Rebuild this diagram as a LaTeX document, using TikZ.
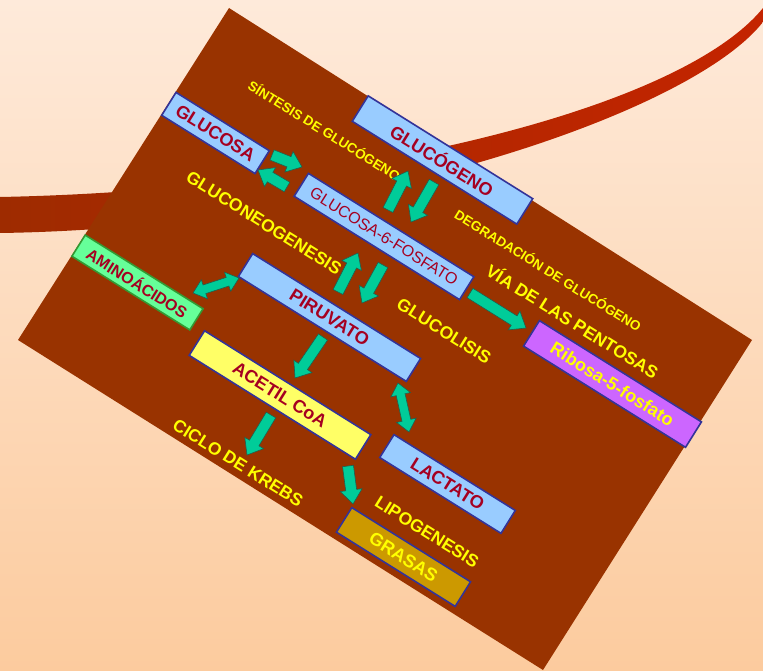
\documentclass[tikz,border=0pt]{standalone}
\usepackage{fontspec}
\setmainfont{Liberation Sans}
\usetikzlibrary{calc}

\definecolor{bgtop}{HTML}{FEEADA}
\definecolor{bgbot}{HTML}{FCCB9E}
\definecolor{slate}{HTML}{993300}
\definecolor{swooshL}{HTML}{9E2B00}
\definecolor{swooshR}{HTML}{C42400}
\definecolor{boxblue}{HTML}{99CCFF}
\definecolor{boxline}{HTML}{333399}
\definecolor{boxgreen}{HTML}{66FF99}
\definecolor{greenline}{HTML}{339933}
\definecolor{boxyellow}{HTML}{FFFF66}
\definecolor{boxgold}{HTML}{CC9900}
\definecolor{boxviolet}{HTML}{CC66FF}
\definecolor{txtred}{HTML}{A50021}
\definecolor{txtyellow}{HTML}{FFFF00}
\definecolor{arrgreen}{HTML}{00CC99}
\definecolor{arrline}{HTML}{1F5F4F}

% block arrow dimensions (half shaft width, half head width, head length)
\def\arrSW{5.5}
\def\arrHW{11}
\def\arrHL{14}
\def\dblSW{4.5}
\def\dblHW{10}
\def\dblHL{12}

% single-headed block arrow from #1 to #2
\newcommand\blockarrow[2]{%
  \path[arrfill] let \p1=(#1), \p2=(#2),
    \n1={atan2(\y2-\y1,\x2-\x1)},
    \n2={veclen(\x2-\x1,\y2-\y1)-\arrHL}
  in ($(\p1)+(\n1+90:\arrSW pt)$)
  -- ($(\p1)+(\n1:\n2)+(\n1+90:\arrSW pt)$)
  -- ($(\p1)+(\n1:\n2)+(\n1+90:\arrHW pt)$)
  -- (\p2)
  -- ($(\p1)+(\n1:\n2)+(\n1-90:\arrHW pt)$)
  -- ($(\p1)+(\n1:\n2)+(\n1-90:\arrSW pt)$)
  -- ($(\p1)+(\n1-90:\arrSW pt)$) -- cycle;}

% double-headed block arrow between #1 and #2
\newcommand\dblarrow[2]{%
  \path[arrfill] let \p1=(#1), \p2=(#2),
    \n1={atan2(\y2-\y1,\x2-\x1)},
    \n2={veclen(\x2-\x1,\y2-\y1)-\dblHL}
  in (\p1)
  -- ($(\p1)+(\n1:\dblHL pt)+(\n1+90:\dblHW pt)$)
  -- ($(\p1)+(\n1:\dblHL pt)+(\n1+90:\dblSW pt)$)
  -- ($(\p1)+(\n1:\n2)+(\n1+90:\dblSW pt)$)
  -- ($(\p1)+(\n1:\n2)+(\n1+90:\dblHW pt)$)
  -- (\p2)
  -- ($(\p1)+(\n1:\n2)+(\n1-90:\dblHW pt)$)
  -- ($(\p1)+(\n1:\n2)+(\n1-90:\dblSW pt)$)
  -- ($(\p1)+(\n1:\dblHL pt)+(\n1-90:\dblSW pt)$)
  -- ($(\p1)+(\n1:\dblHL pt)+(\n1-90:\dblHW pt)$)
  -- cycle;}

\begin{document}
\begin{tikzpicture}[x=1pt,y=-1pt,
  tilted/.style={rotate=-32},
  metabox/.style={tilted, draw=boxline, line width=1.6pt, fill=boxblue,
    text=txtred, font=\bfseries\fontsize{18}{18}\selectfont,
    inner sep=0pt, minimum height=27pt},
  flowlabel/.style={tilted, text=txtyellow, inner sep=0pt,
    font=\bfseries\fontsize{17.5}{18}\selectfont},
  smalllabel/.style={flowlabel, font=\bfseries\fontsize{13.5}{14}\selectfont},
  arrfill/.style={fill=arrgreen, draw=arrline, line width=0.6pt, line join=miter}
]
\useasboundingbox (0,0) rectangle (763,671);

% backdrop and swoosh
\shade[top color=bgtop, bottom color=bgbot] (0,0) rectangle (763,671);
\shade[left color=swooshL, right color=swooshR]
  (0,197) .. controls (350,190) and (680,110) .. (763,8)
  -- (763,22) .. controls (690,115) and (350,228) .. (0,233) -- cycle;

% tilted slate
\fill[slate] (229,8) -- (752,340) -- (543,670) -- (18,340) -- cycle;

% pathway labels
\node[smalllabel] (sintesis) at (324.7,130) {SÍNTESIS DE GLUCÓGENO};
\node[flowlabel] (gng) at (264,223) {GLUCONEOGENESIS};
\node[smalllabel] (degradacion) at (548.5,270) {DEGRADACIÓN DE GLUCÓGENO};
\node[flowlabel] (pentosas) at (573,320.5) {VÍA DE LAS PENTOSAS};
\node[flowlabel] (glucolisis) at (444,331) {GLUCOLISIS};
\node[flowlabel] (krebs) at (238,463) {CICLO DE KREBS};
\node[flowlabel] (lipo) at (427,532) {LIPOGENESIS};

% metabolites
\node[metabox, minimum width=110pt, minimum height=27pt] (glucosa) at (215.5,133) {GLUCOSA};
\node[metabox, minimum width=194pt, minimum height=30pt] (glucogeno) at (442.5,160) {GLUCÓGENO};
\node[metabox, minimum width=195pt, minimum height=27pt,
  font=\fontsize{16}{16}\selectfont] (g6p) at (384,236.5) {GLUCOSA-6-FOSFATO};
\node[metabox, fill=boxgreen, draw=greenline, minimum width=139pt, minimum height=25pt,
  font=\bfseries\fontsize{16}{16}\selectfont] (amino) at (137.5,282.5) {AMINOÁCIDOS};
\node[metabox, minimum width=198pt, minimum height=27pt] (piruvato) at (329.5,317.5) {PIRUVATO};
\node[metabox, fill=boxyellow, minimum width=196pt, minimum height=29pt] (acetil) at (280,395) {ACETIL CoA};
\node[metabox, minimum width=143pt, minimum height=27pt] (lactato) at (447.5,484) {LACTATO};
\node[metabox, fill=boxgold, text=txtyellow, minimum width=140pt, minimum height=29pt] (grasas) at (403.5,557) {GRASAS};
\node[metabox, fill=boxviolet, text=txtyellow, minimum width=191pt, minimum height=30pt] (ribosa) at (612.5,384) {Ribosa-5-fosfato};

% arrow end points
\coordinate (glc2g6pA) at (272,155);  \coordinate (glc2g6pB) at (302,167);
\coordinate (g6p2glcA) at (287,187);  \coordinate (g6p2glcB) at (258,170);
\coordinate (g6p2gogA) at (388,210);  \coordinate (g6p2gogB) at (408,171);
\coordinate (gog2g6pA) at (434,182);  \coordinate (gog2g6pB) at (411,222);
\coordinate (pir2g6pA) at (338,292);  \coordinate (pir2g6pB) at (358,253);
\coordinate (g6p2pirA) at (383,265);  \coordinate (g6p2pirB) at (362,303);
\coordinate (aminoEnd) at (193,293);  \coordinate (pirLeft)  at (239,278);
\coordinate (g6p2ribA) at (470,293);  \coordinate (g6p2ribB) at (526,328);
\coordinate (pir2acA)  at (323,337);  \coordinate (pir2acB)  at (295,378);
\coordinate (pirLow)   at (398,383);  \coordinate (lacTop)   at (409,432);
\coordinate (ac2kA)    at (271,415);  \coordinate (ac2kB)    at (247,455);
\coordinate (ac2grA)   at (348,466);  \coordinate (ac2grB)   at (353,504);

% flux arrows
\blockarrow{glc2g6pA}{glc2g6pB}
\blockarrow{g6p2glcA}{g6p2glcB}
\blockarrow{g6p2gogA}{g6p2gogB}
\blockarrow{gog2g6pA}{gog2g6pB}
\blockarrow{pir2g6pA}{pir2g6pB}
\blockarrow{g6p2pirA}{g6p2pirB}
\blockarrow{g6p2ribA}{g6p2ribB}
\blockarrow{pir2acA}{pir2acB}
\blockarrow{ac2kA}{ac2kB}
\blockarrow{ac2grA}{ac2grB}
\dblarrow{aminoEnd}{pirLeft}
\dblarrow{pirLow}{lacTop}
\end{tikzpicture}
\end{document}
